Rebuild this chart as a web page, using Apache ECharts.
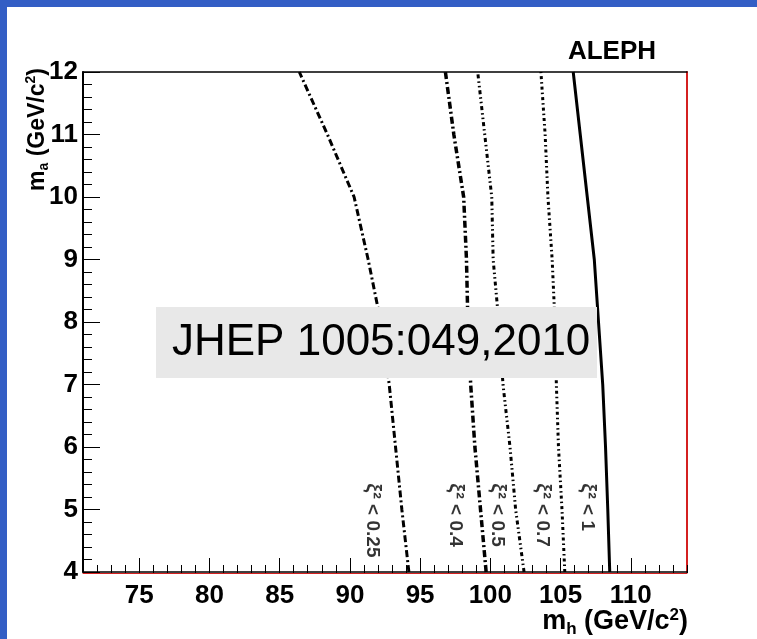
<!DOCTYPE html>
<html>
<head>
<meta charset="utf-8">
<script src="https://cdn.jsdelivr.net/npm/echarts@6/dist/echarts.min.js"></script>
<style>
  html, body { margin: 0; padding: 0; background: #fff; }
  #chart { width: 757px; height: 639px; }
</style>
</head>
<body>
<div id="chart"></div>
<script>
// m_a values where each contour was read
const yValues = [4, 5, 6, 7, 8, 9, 10, 11, 12];
// m_h of each contour at those m_a values
const curve025 = [94.2, 93.7, 93.25, 92.8, 92.2, 91.3, 90.3, 88.4, 86.4];
const curve04 = [99.7, 99.3, 98.9, 98.6, 98.4, 98.3, 98.1, 97.4, 96.8];
const curve05 = [102.4, 101.8, 101.4, 100.9, 100.6, 100.2, 100.1, 99.6, 99.1];
const curve07 = [105.3, 105.1, 104.85, 104.7, 104.6, 104.4, 104.1, 103.9, 103.6];
const curve1 = [108.5, 108.36, 108.2, 108.0, 107.7, 107.4, 106.9, 106.4, 105.9];

const curveNames = ["0.25", "0.4", "0.5", "0.7", "1"];
const labelX = [91.6, 97.5, 100.5, 103.7, 106.9];
const labelTop = 5.42;

const xMajorTicks = [75, 80, 85, 90, 95, 100, 105, 110];
const xMin = 71, xMax = 114;
const yMin = 4, yMax = 12;

const xMinorTicks = [];
for (let v = 72; v <= 114; v++) xMinorTicks.push(v);

const font = "'Liberation Sans', Arial, Helvetica, sans-serif";

const pairs = xs => xs.map((x, i) => [x, yValues[i]]);

const curves = [
    { data: curve025, type: [7, 3, 2, 3], width: 3 },
    { data: curve04, type: [7, 3, 2, 3], width: 3.5 },
    { data: curve05, type: [4, 3, 1.5, 3, 1.5, 3], width: 3 },
    { data: curve07, type: [3, 3, 1.5, 3], width: 3 },
    { data: curve1, type: "solid", width: 3 }
];

let chart = echarts.init(document.getElementById("chart"));

chart.setOption({
    animation: false,
    grid: { left: 83, top: 72, right: 70, bottom: 67 },
    xAxis: [
        {
            type: "value",
            min: xMin,
            max: xMax,
            position: "bottom",
            splitLine: { show: false },
            axisLine: { lineStyle: { color: "#000", width: 1.5 } },
            axisTick: {
                inside: true,
                length: 14,
                customValues: xMajorTicks,
                lineStyle: { color: "#000" }
            },
            axisLabel: {
                customValues: xMajorTicks,
                margin: 11,
                fontSize: 26,
                fontWeight: "bold",
                fontFamily: font,
                color: "#000"
            }
        },
        {
            type: "value",
            min: xMin,
            max: xMax,
            position: "bottom",
            offset: 1,
            splitLine: { show: false },
            axisLine: { show: true, lineStyle: { color: "#d42020", width: 1 } },
            axisTick: {
                inside: true,
                length: 8,
                customValues: xMinorTicks,
                lineStyle: { color: "#000" }
            },
            axisLabel: { show: false }
        },
        {
            type: "value",
            min: xMin,
            max: xMax,
            position: "top",
            splitLine: { show: false },
            axisLine: { lineStyle: { color: "#000", width: 1.5 } },
            axisTick: { show: false },
            axisLabel: { show: false }
        }
    ],
    yAxis: [
        {
            type: "value",
            min: yMin,
            max: yMax,
            interval: 1,
            position: "left",
            splitLine: { show: false },
            axisLine: { show: true, lineStyle: { color: "#000", width: 2 } },
            axisTick: { inside: true, length: 17, lineStyle: { color: "#000" } },
            minorTick: { show: true, splitNumber: 5, length: 9, lineStyle: { color: "#000" } },
            axisLabel: {
                margin: 5,
                fontSize: 26,
                fontWeight: "bold",
                fontFamily: font,
                color: "#000"
            }
        },
        {
            type: "value",
            min: yMin,
            max: yMax,
            position: "right",
            splitLine: { show: false },
            axisLine: { show: true, lineStyle: { color: "#d42020", width: 2 } },
            axisTick: { show: false },
            axisLabel: { show: false }
        }
    ],
    series: curves
        .map(c => ({
            type: "line",
            data: pairs(c.data),
            showSymbol: false,
            symbol: "none",
            lineStyle: { color: "#000", width: c.width, type: c.type },
            z: 2
        }))
        .concat([
            {
                type: "scatter",
                symbolSize: 0,
                data: labelX.map((x, i) => ({ value: [x, labelTop], name: curveNames[i] })),
                label: {
                    show: true,
                    position: "inside",
                    align: "left",
                    verticalAlign: "middle",
                    rotate: -90,
                    formatter: p => "{g|ξ²} < " + p.name,
                    fontSize: 19,
                    fontWeight: "bold",
                    fontFamily: font,
                    color: "#000",
                    rich: {
                        g: { fontSize: 20, fontFamily: font, color: "#000" }
                    }
                }
            }
        ]),
    graphic: [
        { type: "rect", shape: { x: 0, y: 0, width: 757, height: 7 }, style: { fill: "#335ec5" }, z: 100 },
        { type: "rect", shape: { x: 0, y: 0, width: 7, height: 639 }, style: { fill: "#335ec5" }, z: 100 },
        {
            type: "rect",
            shape: { x: 156, y: 307, width: 441, height: 71 },
            style: { fill: "#e8e8e8" },
            z: 50
        },
        {
            type: "text",
            x: 172,
            y: 343,
            z: 51,
            style: {
                text: "JHEP 1005:049,2010",
                fontSize: 44,
                fontFamily: font,
                fill: "#000",
                align: "left",
                verticalAlign: "middle"
            }
        },
        {
            type: "text",
            x: 656,
            y: 52,
            style: {
                text: "ALEPH",
                fontSize: 26,
                fontWeight: "bold",
                fontFamily: font,
                fill: "#000",
                align: "right",
                verticalAlign: "middle"
            }
        },
        {
            type: "text",
            x: 688,
            y: 622,
            style: {
                text: "{b|m}{sub|h}{b| (GeV/c}{sup|2}{b|)}",
                align: "right",
                verticalAlign: "middle",
                rich: {
                    b: { fontSize: 27, fontWeight: "bold", fontFamily: font, fill: "#000", lineHeight: 31 },
                    sub: { fontSize: 17, fontWeight: "bold", fontFamily: font, fill: "#000", verticalAlign: "bottom", lineHeight: 17 },
                    sup: { fontSize: 17, fontWeight: "bold", fontFamily: font, fill: "#000", verticalAlign: "top", lineHeight: 17 }
                }
            }
        },
        {
            type: "text",
            x: 38,
            y: 68,
            rotation: Math.PI / 2,
            style: {
                text: "{b|m}{sub|a}{b| (GeV/c}{sup|2}{b|)}",
                align: "right",
                verticalAlign: "middle",
                rich: {
                    b: { fontSize: 23, fontWeight: "bold", fontFamily: font, fill: "#000", lineHeight: 27 },
                    sub: { fontSize: 14, fontWeight: "bold", fontFamily: font, fill: "#000", verticalAlign: "bottom", lineHeight: 14 },
                    sup: { fontSize: 14, fontWeight: "bold", fontFamily: font, fill: "#000", verticalAlign: "top", lineHeight: 14 }
                }
            }
        }
    ]
});
</script>
</body>
</html>
